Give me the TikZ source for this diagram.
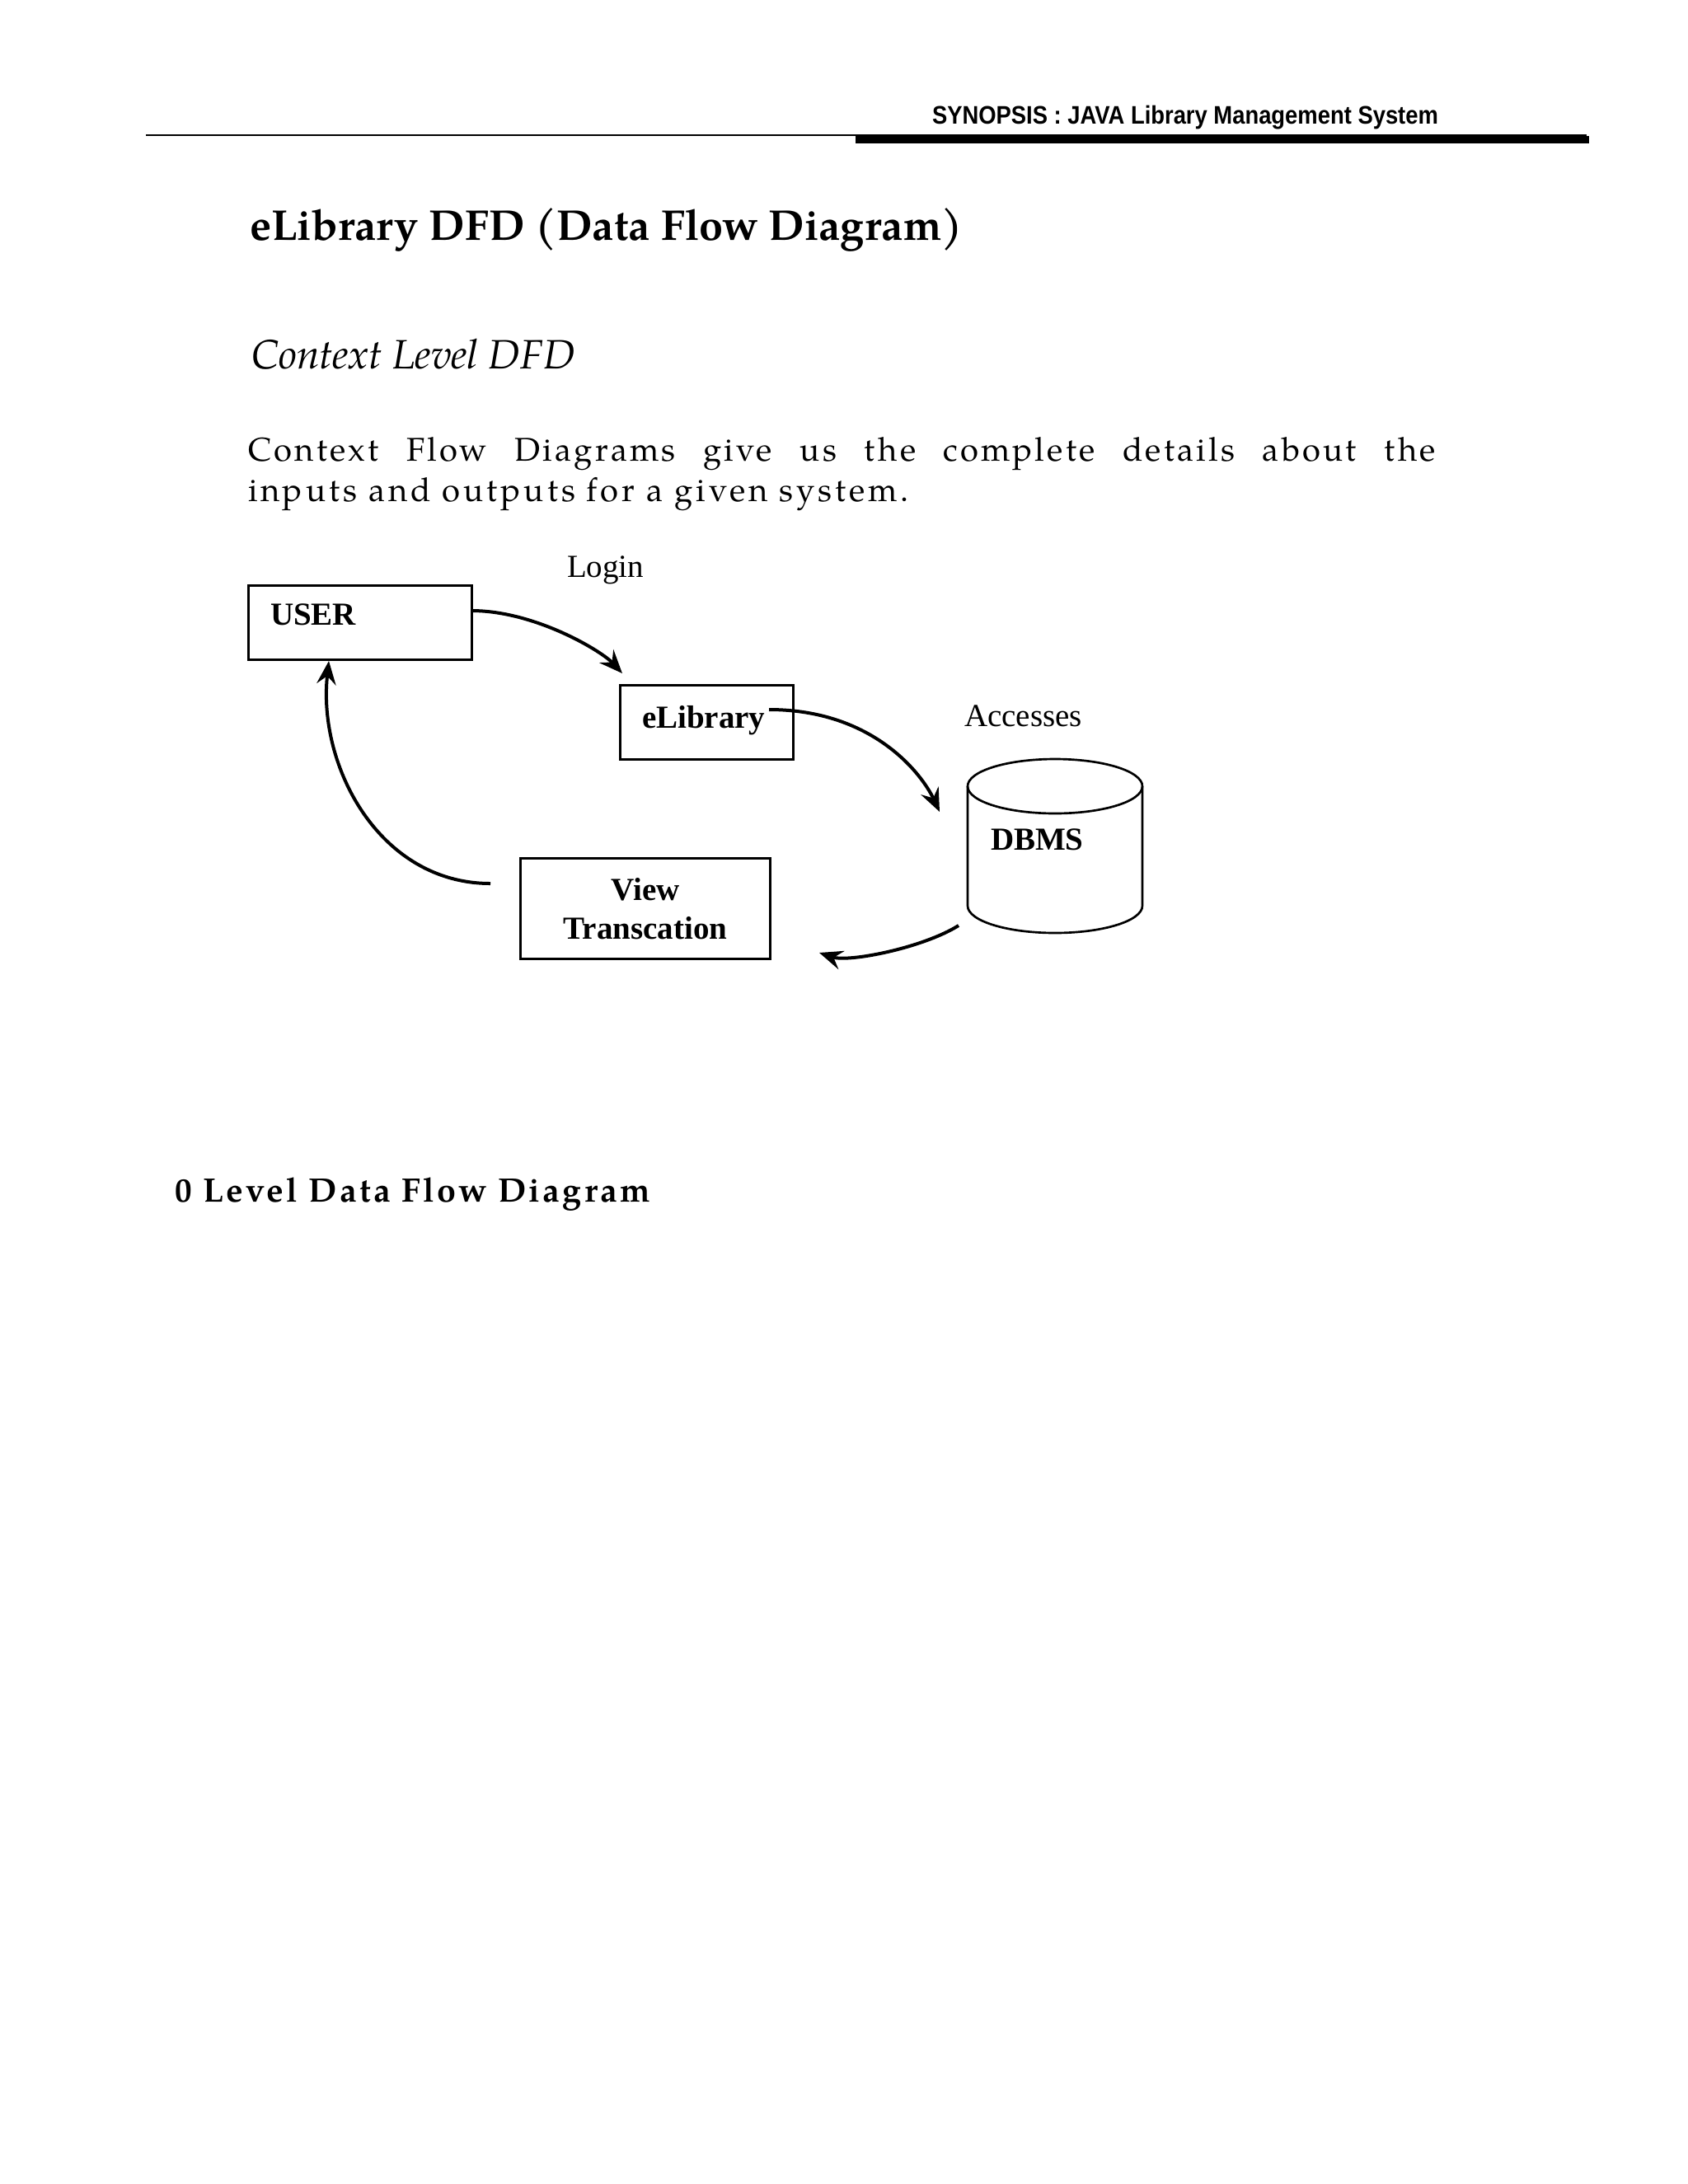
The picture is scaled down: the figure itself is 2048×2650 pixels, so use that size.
\documentclass[tikz,border=0pt]{standalone}
\usepackage{fontspec}
\usepackage{graphicx}
\usetikzlibrary{arrows.meta}
\newfontfamily\palfont{TeX Gyre Pagella}
\newfontfamily\palspfont{TeX Gyre Pagella}[LetterSpace=8]
\newfontfamily\palwidefont{TeX Gyre Pagella}[LetterSpace=10]
\newfontfamily\tmsfont{Liberation Serif}
\newfontfamily\hdrfont{Liberation Sans}
\begin{document}
\begin{tikzpicture}[x=0.3pt,y=-0.3pt,
  txt/.style={inner sep=0pt, outer sep=0pt, anchor=base west},
  dlabel/.style={txt, font=\tmsfont\fontsize{11.7}{14.1}\selectfont},
  dbold/.style={dlabel, font=\tmsfont\bfseries\fontsize{11.7}{14.1}\selectfont},
  procbox/.style={draw, line width=0.9pt, inner sep=0pt, outer sep=0pt},
  flow/.style={line width=1.2pt, -{Stealth[length=8.5pt,width=7pt,inset=3pt]}},
  cyl/.style={line width=0.8pt}
]
\useasboundingbox (0,0) rectangle (2048,2650);

% header
\node[txt] (hdr) at (1131,150) {\resizebox{184.2pt}{6.7pt}{\hdrfont\bfseries SYNOPSIS : JAVA Library Management System}};
\coordinate (hl1a) at (177,164);
\coordinate (hl1b) at (1925,164);
\coordinate (hl2a) at (1038,169.5);
\coordinate (hl2b) at (1928,169.5);
\draw[line width=0.6pt] (hl1a) -- (hl1b);
\draw[line width=2.6pt] (hl2a) -- (hl2b);

% title and text
\node[txt] (title) at (303,291) {\resizebox{259.5pt}{!}{\palfont\bfseries\fontsize{17}{20}\selectfont eLibrary DFD (Data Flow Diagram)}};
\node[txt] (sub) at (305,447) {\resizebox{117.9pt}{!}{\palfont\itshape\fontsize{16}{19}\selectfont Context Level DFD}};
\node[txt] (para1) at (301,559) {\palspfont\fontsize{12}{14.6}\selectfont\makebox[432.3pt][s]{Context Flow Diagrams give us the complete details about the}};
\node[txt] (para2) at (301,608) {\palwidefont\fontsize{12}{14.6}\selectfont inputs and outputs for a given system.};
\node[txt] (lvl0) at (212,1458) {\resizebox{173.1pt}{!}{\palspfont\bfseries\fontsize{12}{14.6}\selectfont 0 Level Data Flow Diagram}};

% boxes
\node[procbox, minimum width=81.3pt, minimum height=27pt] (user) at (436.5,755) {};
\node[dbold] (userlbl) at (328,758) {USER};
\node[procbox, minimum width=63pt, minimum height=27pt] (elib) at (857,876) {};
\node[dbold] (eliblbl) at (779,883) {eLibrary};
\node[procbox, minimum width=90.9pt, minimum height=36.6pt] (vt) at (782.5,1102) {};
\node[dbold, anchor=base] (vtl1) at (783,1092) {View};
\node[dbold, anchor=base] (vtl2) at (783,1139) {Transcation};

% DBMS cylinder
\node[inner sep=0pt, outer sep=0pt, minimum width=63.6pt, minimum height=63.3pt] (dbms) at (1280,1026.5) {};
\draw[cyl] (1280,954) ellipse [x radius=106, y radius=33];
\draw[cyl] (1174,954) -- (1174,1099) arc[start angle=180, end angle=0, x radius=106, y radius=33] -- (1386,954);
\node[dbold] (dbmslbl) at (1202,1031) {DBMS};

% labels
\node[dlabel] (login) at (688,700) {Login};
\node[dlabel] (acc) at (1170,881) {Accesses};

% flows
\draw[flow] ([yshift=4.2pt]user.east) .. controls +(77,0) and +(-25,-27) .. ([xshift=0.9pt,yshift=4.2pt]elib.north west);
\draw[flow] ([xshift=-8.7pt,yshift=4.5pt]elib.east) .. controls +(127,0) and +(-21,-45) .. ([xshift=-10.2pt,yshift=-19.2pt]dbms.north west);
\draw[flow] ([xshift=-3.3pt,yshift=2.7pt]dbms.south west) .. controls +(-43,27) and +(36,12) .. ([xshift=18pt,yshift=2.1pt]vt.south east);
\draw[flow] ([xshift=-10.8pt,yshift=-9.3pt]vt.north west) .. controls +(-135,0) and +(-14,127) .. ([xshift=29.4pt,yshift=-0.6pt]user.south west);
\end{tikzpicture}
\end{document}
